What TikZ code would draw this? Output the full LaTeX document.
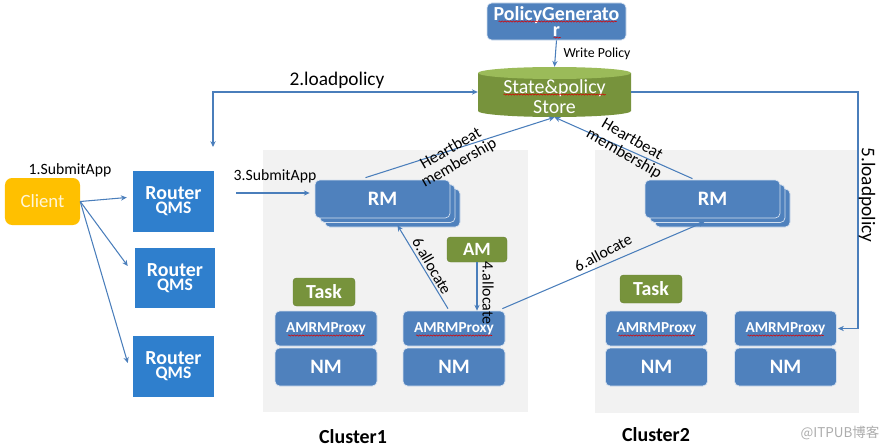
\documentclass[tikz,border=0pt]{standalone}
\usepackage{fontspec}
\setmainfont{Carlito}
\newfontfamily\cjkfont{Noto Sans CJK SC}
\usetikzlibrary{arrows.meta,decorations.pathmorphing}
\definecolor{boxblue}{HTML}{4F81BD}
\definecolor{routerblue}{HTML}{2F7FCD}
\definecolor{grn}{HTML}{77933C}
\definecolor{grnlight}{HTML}{9BBB59}
\definecolor{orng}{HTML}{FFC000}
\definecolor{arrc}{HTML}{4A7EBB}
\definecolor{clbg}{HTML}{F2F2F2}
\newcommand\fsz[1]{\fontsize{#1}{#1}\selectfont}
\tikzset{
  rbox/.style={rounded corners=4pt, fill=boxblue, draw=white!75!boxblue, line width=0.6pt, text=white, font=\bfseries, inner sep=0pt},
  gbox/.style={rounded corners=3pt, fill=grn, draw=grn!90!black, line width=0.4pt, text=white, font=\bfseries\fsz{17}, inner sep=0pt},
  router/.style={fill=routerblue, text=white, inner sep=0pt, align=center, minimum width=2.43cm, minimum height=1.83cm, font=\bfseries},
  conn/.style={draw=arrc, line width=0.9pt, -{Stealth[length=5pt,width=4.5pt]}},
  lbl/.style={text=black, inner sep=0pt, align=center},
  proxy/.style={rbox, minimum width=3.06cm, minimum height=1.05cm, font=\bfseries\fsz{13}},
  nmbox/.style={rbox, minimum width=3.06cm, minimum height=1.14cm, font=\bfseries\fsz{17.5}},
  rmbox/.style={rbox, minimum width=4.05cm, minimum height=1.14cm, font=\bfseries\fsz{17.5}},
  cluster/.style={fill=clbg, draw=none},
  squig/.style={draw=red!85!black, line width=0.45pt, decorate, decoration={snake, amplitude=0.55pt, segment length=2.4pt}},
}
\begin{document}
\begin{tikzpicture}[x=0.03cm, y=-0.03cm]
\useasboundingbox (0,0) rectangle (889,448);
% cluster backgrounds
\fill[cluster] (263,150) rectangle (528,412);
\fill[cluster] (595,150) rectangle (859,413);
\node[lbl, font=\bfseries\fsz{17}] (cl1) at (353,437) {Cluster1};
\node[lbl, font=\bfseries\fsz{17}] (cl2) at (656,435) {Cluster2};
% client and routers
\node[rounded corners=6pt, fill=orng, text=orng!15!white, minimum width=2.25cm, minimum height=1.41cm, inner sep=0pt, font=\fsz{16}] (client) at (42.5,201.5) {Client};
\node[lbl, font=\fsz{13.4}] (l1) at (70,170) {1.SubmitApp};
\node[router] (r1) at (173.5,201.5) {\fontsize{17}{17}\selectfont Router\\\fontsize{15}{18}\selectfont QMS};
\node[router, minimum width=2.40cm, minimum height=1.80cm] (r2) at (175,278) {\fontsize{17}{17}\selectfont Router\\\fontsize{15}{18}\selectfont QMS};
\node[router] (r3) at (173.5,366.5) {\fontsize{17}{17}\selectfont Router\\\fontsize{15}{18}\selectfont QMS};
% policy generator
\node[rbox, minimum width=4.17cm, minimum height=1.11cm, align=center, font=\bfseries\fontsize{17}{14}\selectfont] (pg) at (556.5,21.5) {PolicyGenerato\\r};
\draw[squig] ([shift={(-58,0)}]pg.center) -- ([shift={(60,0)}]pg.center);
\draw[squig] ([shift={(-3,16)}]pg.center) -- ([shift={(4,16)}]pg.center);
% store cylinder
\fill[grn] (478,73) -- (478,111) arc[start angle=180, end angle=0, x radius=76.5, y radius=6] -- (631,73) -- cycle;
\fill[grnlight] (554.5,73) ellipse[x radius=76.5, y radius=6];
\node[minimum width=4.59cm, minimum height=1.5cm, inner sep=0pt] (store) at (554.5,92) {};
\node[lbl, text=white, font=\fsz{17}] (storetext) at (554.5,97) {State\&policy\\Store};
\draw[squig] ([shift={(-51,2.5)}]store.center) -- ([shift={(51,2.5)}]store.center);
\node[lbl, font=\fsz{11.8}] (wp) at (597,54) {Write Policy};
% cluster 1
\node[rmbox] (rm1c) at (392.5,208) {};
\node[rmbox] (rm1b) at (387.5,203.5) {};
\node[rmbox] (rm1) at (382.5,199) {RM};
\node[gbox, minimum width=1.8cm, minimum height=0.75cm, font=\bfseries\fsz{16}] (am) at (477,249.5) {AM};
\node[gbox, minimum width=1.86cm, minimum height=0.84cm] (t1) at (324,292) {Task};
\node[proxy] (p1) at (326,328.5) {AMRMProxy};
\node[nmbox] (n1) at (326,367) {NM};
\node[proxy] (p2) at (454,328.5) {AMRMProxy};
\node[nmbox] (n2) at (454,367) {NM};
% cluster 2
\node[rmbox] (rm2c) at (722.5,208) {};
\node[rmbox] (rm2b) at (717.5,203.5) {};
\node[rmbox] (rm2) at (712.5,199) {RM};
\node[gbox, minimum width=1.86cm, minimum height=0.84cm] (t2) at (651,289) {Task};
\node[proxy] (p3) at (656.5,328.5) {AMRMProxy};
\node[nmbox] (n3) at (656.5,367) {NM};
\node[proxy] (p4) at (785.5,328.5) {AMRMProxy};
\node[nmbox] (n4) at (785.5,367) {NM};
\foreach \p in {p1,p2,p3,p4}{
  \draw[squig] ([shift={(-38,7)}]\p.center) -- ([shift={(38,7)}]\p.center);
}
% watermark
\node[lbl, text=gray!65, font=\cjkfont\fsz{11.5}] (wm) at (840,433) {@ITPUB博客};
% connectors
\draw[conn] (client.east) -- ([shift={(-6,-4)}]r1.west);
\draw[conn] (client.east) -- ([shift={(-7,-12)}]r2.west);
\draw[conn] (client.east) -- ([shift={(-5,-3.5)}]r3.west);
\coordinate (s3) at (236,193);
\draw[conn] (s3) -- ([shift={(-5,-6)}]rm1.west);
\node[lbl, font=\fsz{13.4}] (l3) at (275,176) {3.SubmitApp};
\draw[conn] (pg.south) -- (store.north);
\coordinate (lp2) at (213,147);
\draw[conn, {Stealth[length=5pt,width=4.5pt]}-{Stealth[length=5pt,width=4.5pt]}] (store.west) -| (lp2);
\node[lbl, font=\fsz{16.5}] (l2) at (337,80) {2.loadpolicy};
\coordinate (c5) at (858,92);
\draw[conn, shorten >=1pt] (store.east) -- (c5) |- (p4.east);
\node[lbl, rotate=-90, font=\fsz{16.5}] (l5) at (867,195) {5.loadpolicy};
\draw[conn] ([shift={(-17,-2)}]rm1.north) -- (store.south);
\node[lbl, rotate=30, font=\fsz{14}] (hb1) at (455,156) {Heartbeat\\membership};
\draw[conn] ([shift={(-20,-1)}]rm2.north) -- (store.south);
\node[lbl, rotate=-30, font=\fsz{14}] (hb2) at (628,147) {Heartbeat\\membership};
\draw[conn] ([shift={(-6,-2)}]p2.north) -- ([shift={(5,-2)}]rm1c.south);
\node[lbl, rotate=-60, font=\fsz{13.6}] (a61) at (432,266) {6.allocate};
\draw[conn] (am.south) -- (am.south |- p2.north);
\node[lbl, rotate=-90, font=\fsz{13.6}] (a4) at (488,293) {4.allocate};
\draw[conn] ([shift={(-3,-2)}]p2.north east) -- ([shift={(-13,-1)}]rm2b.south);
\node[lbl, rotate=28, font=\fsz{13.6}] (a62) at (603,253) {6.allocate};
\end{tikzpicture}
\end{document}
